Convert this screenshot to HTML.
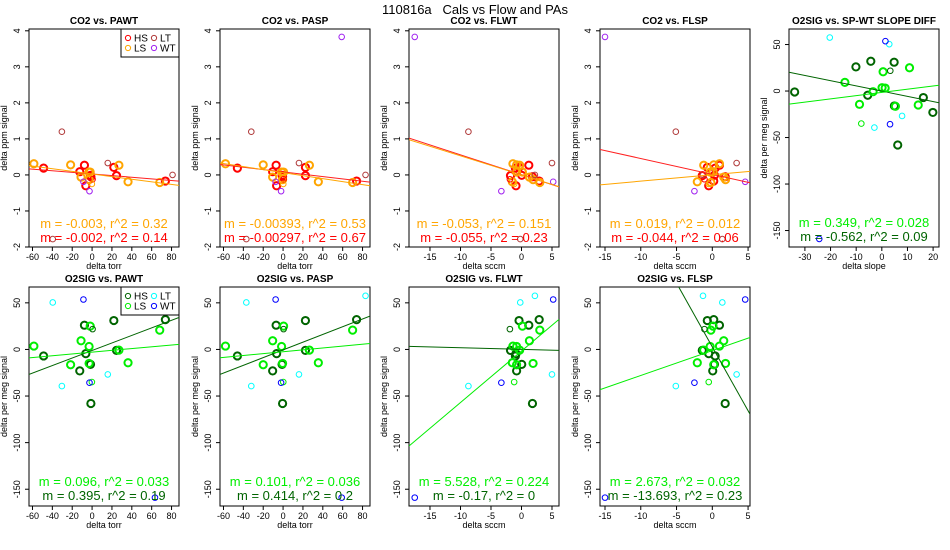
<!DOCTYPE html>
<html><head><meta charset="utf-8"><style>
html,body{margin:0;padding:0;background:#fff;}
svg{display:block;font-family:"Liberation Sans",Arial,sans-serif;}
</style></head><body>
<svg id="chart" width="950" height="550" viewBox="0 0 950 550">
<text x="475" y="14" text-anchor="middle" font-size="13" style="white-space:pre" xml:space="preserve">110816a   Cals vs Flow and PAs</text>
</svg>
<script>
// ---- shared sample data ----
const group = ['HS','HS','HS','HS','HS','HS','HS','HS','HS','LS','LS','LS','LS','LS','LS','LS','LS','LS','HSt','LSt','LT','LT','LT','LT','WT','WT','WT'];
const o2 = [-7,-23,26,-4.5,-16,-58,31,-1,32, 3.6,-16.4,9.3,3.2,25,-15,-0.7,-14.3,20.7, 21.8,-35, 50.4,-39.3,-26.8,57.5, 53.6,-35.7,-159];
const co2 = [0.19,0.09,0.27,-0.30,-0.01,-0.05,0.21,-0.02,-0.17, 0.31,0.28,-0.06,0.08,0.08,-0.13,0.27,-0.19,-0.21, -0.12,-0.25, -1.78,1.2,0.33,0.0, -0.19,-0.45,3.83];
const pawt = [-48.8,-12.4,-7.7,-6.3,-1.6,-1.2,21.9,24.6,73.8, -58.6,-21.6,-11.1,-3,-1.9,-3,27,36.2,68.1, 0.5,-0.2, -39.6,-30.4,15.8,81, -8.7,-2.6,63.3];
const pasp = [-46,-10.5,-7,-6.5,-1,-0.5,22.5,22.5,74, -58,-20,-10.5,-1.5,0.5,-0.5,26.5,35.5,70, 0.5,0.2, -37,-32,16,83, -7.5,-2,59];
const flwt = [-1.0,-0.8,1.2,-0.9,0.04,1.8,-0.4,-1.8,2.9, -1.4,-0.8,1.3,-0.8,0.15,1.9,-0.3,-1.5,3, -1.9,-1.2, -0.2,-8.7,5,2.2, 5.2,-3.3,-17.5];
const flsp = [0.4,0.06,1.0,-0.5,0.3,1.8,-0.7,-1.4,0.2, 1.0,0.2,1.6,-0.3,0.1,1.85,-1.2,-2.1,-0.2, -1.1,-0.5, 1.4,-5.1,3.4,-1.3, 4.6,-2.5,-15];
const slopeDiff = [16.2,19.9,-10.1,-5.5,4.9,6.2,4.8,-34,-4.3, 0.1,5.3,-14.4,1.3,10.8,14.2,-3.4,-8.7,0.5, 3.3,-8, 2.9,-2.9,7.9,-20.3, 1.4,3.2,-24.4];
// ---- fits ----
const topLSslope = [-0.00364,-0.00417,-0.053,0.0178];
const topLSint = [0.027,0.065,0.0,0.005];
const topHSslope = [-0.00225,-0.00325,-0.055,-0.044];
const topHSint = [0.026,0.084,0.007,0.016];
const botLSslope = [0.096,0.101,5.528,2.673,0.349];
const botLSint = [-2.9,-2.5,-1.7,-1.2,-1.5];
const botHSslope = [0.404,0.414,-0.17,-13.693,-0.562];
const botHSint = [-1.1,-0.5,0.1,2.7,-0.1];
const topLSlabel = ['m = -0.003, r^2 = 0.32','m = -0.00393, r^2 = 0.53','m = -0.053, r^2 = 0.151','m = 0.019, r^2 = 0.012'];
const topHSlabel = ['m = -0.002, r^2 = 0.14','m = -0.00297, r^2 = 0.67','m = -0.055, r^2 = 0.23','m = -0.044, r^2 = 0.06'];
const botLSlabel = ['m = 0.096, r^2 = 0.033','m = 0.101, r^2 = 0.036','m = 5.528, r^2 = 0.224','m = 2.673, r^2 = 0.032','m = 0.349, r^2 = 0.028'];
const botHSlabel = ['m = 0.395, r^2 = 0.19','m = 0.414, r^2 = 0.2','m = -0.17, r^2 = 0','m = -13.693, r^2 = 0.23','m = -0.562, r^2 = 0.09'];
const torrTicks = [-60,-40,-20,0,20,40,60,80];
const sccmTicks = [-15,-10,-5,0,5];
const slopeTicks = [-30,-20,-10,0,10,20];
const co2Ticks = [-2,-1,0,1,2,3,4];
const o2Ticks = [50,0,-50,-100,-150];

const NS='http://www.w3.org/2000/svg';
const svg=document.getElementById('chart');
function mk(tag,attrs,parent){const e=document.createElementNS(NS,tag);for(const k in attrs)e.setAttribute(k,attrs[k]);(parent||svg).appendChild(e);return e;}
const topCol={HS:['#ff0000',2,3.6],LS:['#ffa500',2,3.6],HSt:['#ff0000',1,2.8],LSt:['#ffa500',1,2.8],LT:['#b03a3a',1,2.8],WT:['#a020f0',1,2.8]};
const botCol={HS:['#006400',2,3.6],LS:['#00ee00',2,3.6],HSt:['#006400',1,2.8],LSt:['#00ee00',1,2.8],LT:['#00ffff',1,2.8],WT:['#0000ff',1,2.8]};
const lefts=[29,220,409,600,789];
let clipId=0;
function panel(o){
  const L=o.left,R=o.left+150,T=o.top,B=o.bottom;
  const g=mk('g',{});
  
  
  const sx=v=>L+(v-o.x0)/(o.x1-o.x0)*(R-L);
  const sy=v=>B-(v-o.y0)/(o.y1-o.y0)*(B-T);
  const cid='c'+(clipId++);
  const cp=mk('clipPath',{id:cid},g);mk('rect',{x:L,y:T,width:R-L,height:B-T},cp);
  const t=mk('text',{x:(L+R)/2,y:T-5,'text-anchor':'middle','font-size':10,'font-weight':'bold'},g);t.textContent=o.title;
  
  
  o.xticks.forEach(v=>{const x=sx(v);mk('line',{x1:x,x2:x,y1:B,y2:B+4,stroke:'#000'},g);
    const tt=mk('text',{x:x,y:B+13,'text-anchor':'middle','font-size':9},g);tt.textContent=v;
    
    });
  const xs=o.xticks.map(sx);mk('line',{x1:xs[0],x2:xs[xs.length-1],y1:B,y2:B,stroke:'#000'},g);
  o.yticks.forEach(v=>{const y=sy(v);mk('line',{x1:L-4,x2:L,y1:y,y2:y,stroke:'#000'},g);
    const tt=mk('text',{x:L-9,y:y,'text-anchor':'middle','font-size':9,transform:`rotate(-90 ${L-9} ${y})`},g);tt.textContent=v;
    
    });
  const xl=mk('text',{x:(L+R)/2,y:B+22,'text-anchor':'middle','font-size':9},g);xl.textContent=o.xlabel;
  
  
  const yc=(T+B)/2;
  const yl=mk('text',{x:L-22,y:yc,'text-anchor':'middle','font-size':9,transform:`rotate(-90 ${L-22} ${yc})`},g);yl.textContent=o.ylabel;
  
  
  mk('rect',{x:L,y:T,width:R-L,height:B-T,fill:'none',stroke:'#000'},g);
  const pg=mk('g',{'clip-path':`url(#${cid})`},g);
  o.xs.forEach((xv,i)=>{const c=o.cols[group[i]];
    const p=mk('circle',{cx:sx(xv),cy:sy(o.ys[i]),r:c[2],fill:'none',stroke:c[0],'stroke-width':c[1]},pg);
    
    });
  o.fits.forEach(f=>{const ln=mk('line',{x1:L,x2:R,y1:sy(f.m*o.x0+f.b),y2:sy(f.m*o.x1+f.b),stroke:f.col,'stroke-width':1},pg);
    
    });
  o.labels.forEach((lb,k)=>{const s=mk('text',{x:(L+R)/2,y:o.labY[k],'text-anchor':'middle','font-size':13,fill:lb.col},g);s.textContent=lb.t;
    
    });
  if(o.legend){
    const lg=mk('g',{},g);
    
    
    mk('rect',{x:121,y:T,width:58,height:28,fill:'#fff',stroke:'#000'},lg);
    const ent=[['HS',128,T+9],['LS',128,T+19],['LT',154,T+9],['WT',154,T+19]];
    ent.forEach(e=>{const c=o.cols[e[0]];mk('circle',{cx:e[1],cy:e[2],r:2.6,fill:'none',stroke:c[0]},lg);
      const tx=mk('text',{x:e[1]+6,y:e[2]+3.5,'font-size':10},lg);tx.textContent=e[0];
      
      });
  }
}
const topX=[pawt,pasp,flwt,flsp];
const xr=[[-63.5,87.5],[-63.5,87.5],[-18.44,6.15],[-15.7,5.27],[-36.2,22.3]];
const names=['PAWT','PASP','FLWT','FLSP'];
for(let i=0;i<4;i++){
  const isT=i<2;
  panel({name:'panel-co2-'+names[i].toLowerCase(),left:lefts[i],top:29,bottom:247,x0:xr[i][0],x1:xr[i][1],y0:-2,y1:4.05,
    title:'CO2 vs. '+names[i],xticks:isT?torrTicks:sccmTicks,yticks:co2Ticks,xlabel:isT?'delta torr':'delta sccm',ylabel:'delta ppm signal',
    xs:topX[i],ys:co2,cols:topCol,
    fits:[{m:topHSslope[i],b:topHSint[i],col:'#ff2020'},{m:topLSslope[i],b:topLSint[i],col:'#ffa500'}],
    labels:[{t:topLSlabel[i],col:'#ffa500'},{t:topHSlabel[i],col:'#ff0000'}],labY:[228,242],legend:i==0});
  panel({name:'panel-o2sig-'+names[i].toLowerCase(),left:lefts[i],top:287,bottom:506,x0:xr[i][0],x1:xr[i][1],y0:-168,y1:67,
    title:'O2SIG vs. '+names[i],xticks:isT?torrTicks:sccmTicks,yticks:o2Ticks,xlabel:isT?'delta torr':'delta sccm',ylabel:'delta per meg signal',
    xs:topX[i],ys:o2,cols:botCol,
    fits:[{m:botHSslope[i],b:botHSint[i],col:'#006400'},{m:botLSslope[i],b:botLSint[i],col:'#00ee00'}],
    labels:[{t:botLSlabel[i],col:'#00ee00'},{t:botHSlabel[i],col:'#006400'}],labY:[486,500],legend:i==0});
}
panel({name:'panel-o2sig-slope-diff',left:lefts[4],top:29,bottom:247,x0:xr[4][0],x1:xr[4][1],y0:-167.7,y1:66.7,
  title:'O2SIG vs. SP-WT SLOPE DIFF',xticks:slopeTicks,yticks:o2Ticks,xlabel:'delta slope',ylabel:'delta per meg signal',
  xs:slopeDiff,ys:o2,cols:botCol,
  fits:[{m:botHSslope[4],b:botHSint[4],col:'#006400'},{m:botLSslope[4],b:botLSint[4],col:'#00ee00'}],
  labels:[{t:botLSlabel[4],col:'#00ee00'},{t:botHSlabel[4],col:'#006400'}],labY:[227,241],legend:false});
</script>
</body></html>
